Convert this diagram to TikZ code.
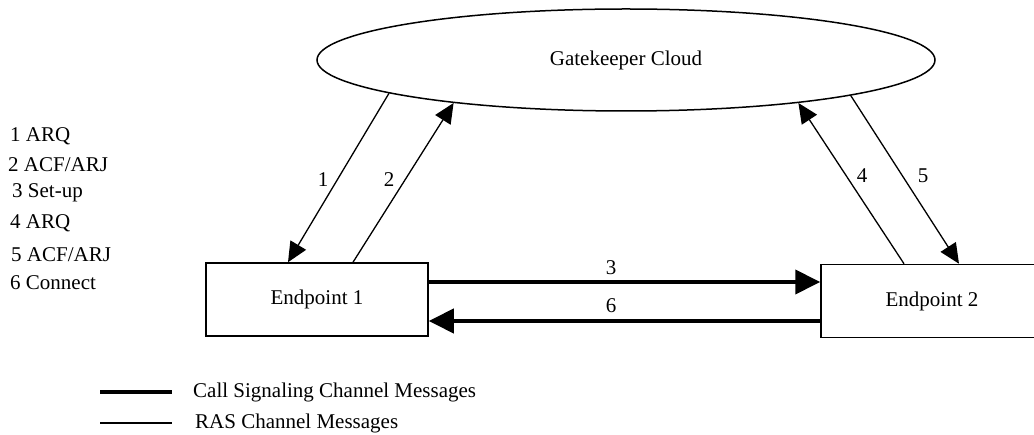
\documentclass[tikz,border=0pt]{standalone}
\usepackage{fontspec}
\setmainfont{Liberation Serif}
\usetikzlibrary{arrows.meta,shapes.geometric}
\begin{document}
\begin{tikzpicture}[x=1pt,y=-1pt,
  font=\fontsize{21}{25}\selectfont,
  box/.style={draw, line width=1.5pt, minimum width=222pt, minimum height=73pt, inner sep=0pt},
  ras/.style={line width=1.3pt, -{Triangle[length=20pt,width=18pt]}},
  csc/.style={line width=4pt, -{Triangle[length=25pt,width=24pt]}},
  lbl/.style={inner sep=0pt},
  item/.style={inner sep=0pt, anchor=west}]

% page frame (the second endpoint box runs past the right edge)
\clip (0,0) rectangle (1034,435);

% gatekeeper and endpoints
\node[draw, ellipse, line width=1.5pt, minimum width=618pt, minimum height=102pt, inner sep=0pt]
  (gk) at (626,60) {\raisebox{-3pt}{Gatekeeper Cloud}};
\node[box] (ep1) at (317,299.5) {\raisebox{-2pt}{Endpoint 1}};
\node[box] (ep2) at (932,301) {\raisebox{-1pt}{Endpoint 2}};

% RAS messages
\draw[ras] (gk.188.9) -- ([xshift=-29pt]ep1.north);
\draw[ras] ([xshift=36pt]ep1.north) -- (gk.194.2);
\draw[ras] ([xshift=-28pt]ep2.north) -- (gk.346.9);
\draw[ras] (gk.351.7) -- ([xshift=27pt]ep2.north);

% call signalling messages
\draw[csc] (ep1.east |- 0,282) -- (ep2.west |- 0,282);
\draw[csc] (ep2.west |- 0,321) -- (ep1.east |- 0,321);

% message numbers
\node[lbl] (n1) at (323,180) {1};
\node[lbl] (n2) at (389,180) {2};
\node[lbl] (n3) at (611,268) {3};
\node[lbl] (n4) at (862,176) {4};
\node[lbl] (n5) at (923,176) {5};
\node[lbl] (n6) at (611,306) {6};

% message list
\node[item] (i1) at (10,136) {1 ARQ};
\node[item] (i2) at (8,165) {2 ACF/ARJ};
\node[item] (i3) at (12,193) {3 Set-up};
\node[item] (i4) at (10,223) {4 ARQ};
\node[item] (i5) at (11,255) {5 ACF/ARJ};
\node[item] (i6) at (10,283) {6 Connect};

% legend
\coordinate (k1a) at (100,392);
\coordinate (k1b) at (172,392);
\coordinate (k2a) at (100,423);
\coordinate (k2b) at (172,423);
\draw[line width=4pt] (k1a) -- (k1b);
\draw[line width=1.5pt] (k2a) -- (k2b);
\node[item] (t1) at (193,392) {Call Signaling Channel Messages};
\node[item] (t2) at (195,423) {RAS Channel Messages};
\end{tikzpicture}
\end{document}
